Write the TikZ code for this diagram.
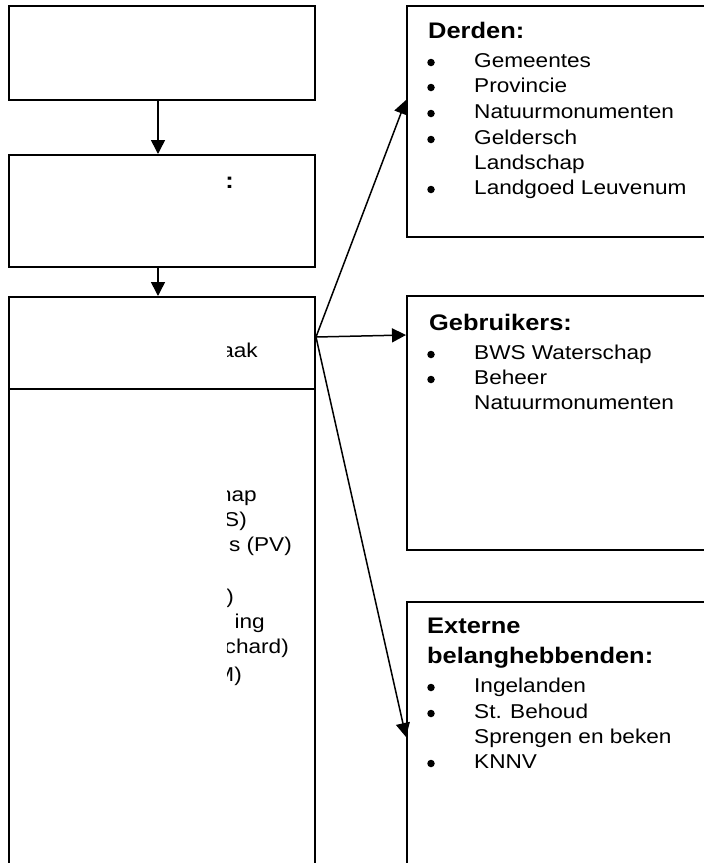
\documentclass[tikz,border=0pt]{standalone}
\usepackage{fontspec}
\setmainfont[FakeStretch=1.13]{Liberation Sans}
\usetikzlibrary{arrows.meta}
\tikzset{
  frame/.style={draw, line width=2pt, inner sep=0pt, anchor=north west},
  body/.style={inner sep=0pt, anchor=base west, font=\fontsize{20}{25.6}\selectfont},
  head/.style={inner sep=0pt, anchor=base west, font=\fontsize{22.5}{30}\selectfont\bfseries},
  frag/.style={inner sep=0pt, anchor=base east, font=\fontsize{20}{25.6}\selectfont},
  fragb/.style={inner sep=0pt, anchor=base east, font=\fontsize{22.5}{30}\selectfont\bfseries},
  dot/.style={circle, fill, inner sep=0pt, minimum size=7.5pt},
  link/.style={line width=1.5pt, -{Triangle[length=14pt,width=14pt]}},
}
\begin{document}
\begin{tikzpicture}[x=1pt,y=-1pt]
\useasboundingbox (0,0) rectangle (704,863);
\clip (0,0) rectangle (704,863);
% left column
\node[frame, minimum width=306pt, minimum height=94pt] (b1) at (8,5) {};
\node[frame, minimum width=306pt, minimum height=112pt] (b2) at (8,154) {};
\node[frame, minimum width=306pt, minimum height=620pt] (b3) at (8,296) {};
\coordinate (dl) at (8,389);
\coordinate (dr) at (314,389);
\draw[line width=2pt] (dl) -- (dr);
% right column
\node[frame, minimum width=330pt, minimum height=231pt] (derden) at (406,5) {};
\node[frame, minimum width=330pt, minimum height=254pt] (gebr) at (406,295) {};
\node[frame, minimum width=330pt, minimum height=320pt] (ext) at (406,601) {};
% connectors
\draw[link] ([xshift=-4pt]b1.south) -- ([xshift=-4pt]b2.north);
\draw[link] ([xshift=-4pt]b2.south) -- ([xshift=-4pt]b3.north);
\coordinate (fan) at ([yshift=-41pt]b3.north east);
\coordinate (tD) at ([yshift=-95pt]derden.north west);
\coordinate (tG) at ([yshift=-40pt]gebr.north west);
\coordinate (tE) at ([yshift=-136pt]ext.north west);
\draw[link] (fan) -- (tD);
\draw[link] (fan) -- (tG);
\draw[link] (fan) -- (tE);
% Derden
\node[head] (dh) at (428,38) {Derden:};
\node[dot] (d1b) at (431,62.5) {};
\node[body] (d1) at (474,67) {Gemeentes};
\node[dot] (d2b) at (431,87.5) {};
\node[body] (d2) at (474,92) {Provincie};
\node[dot] (d3b) at (431,113.5) {};
\node[body] (d3) at (474,118) {Natuurmonumenten};
\node[dot] (d4b) at (431,139.5) {};
\node[body] (d4) at (474,144) {Geldersch};
\node[body] (d4c) at (474,169) {Landschap};
\node[dot] (d5b) at (431,189.5) {};
\node[body] (d5) at (474,194) {Landgoed Leuvenum};
% Gebruikers
\node[head] (gh) at (429,330) {Gebruikers:};
\node[dot] (g1b) at (431,354.5) {};
\node[body] (g1) at (474,359) {BWS Waterschap};
\node[dot] (g2b) at (431,379.5) {};
\node[body] (g2) at (474,384) {Beheer};
\node[body] (g2c) at (474,409) {Natuurmonumenten};
% Externe
\node[head] (eh1) at (427,633) {Externe};
\node[head] (eh2) at (427,663) {belanghebbenden:};
\node[dot] (e1b) at (431,687.5) {};
\node[body] (e1) at (474,692) {Ingelanden};
\node[dot] (e2b) at (431,713.5) {};
\node[body] (e2) at (474,718) {St. Behoud};
\node[body] (e2c) at (474,743) {Sprengen en beken};
\node[dot] (e3b) at (431,763.5) {};
\node[body] (e3) at (474,768) {KNNV};
% clipped fragments in the left boxes
\begin{scope}
\clip (227,100) rectangle (312,860);
\node[fragb] (c1) at (234,188) {:};
\node[frag] (f0) at (258,357) {aak};
\node[frag] (f1) at (257,501) {hap};
\node[frag] (f2) at (247,526) {S)};
\node[frag] (f3) at (292,551) {s (PV)};
\node[frag] (f4) at (234,603) {)};
\node[frag] (f5) at (265,628) {ing};
\node[frag] (f6) at (289,653) {chard)};
\node[frag] (f7) at (242,681) {M)};
\end{scope}
\end{tikzpicture}
\end{document}
